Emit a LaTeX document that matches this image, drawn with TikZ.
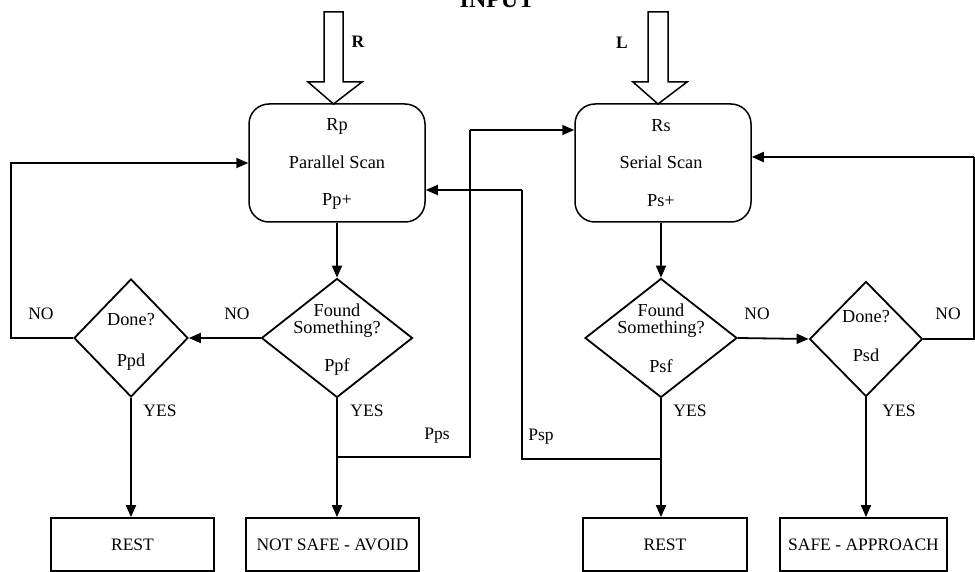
\documentclass[tikz,border=0pt]{standalone}
\usepackage{fontspec}
\setmainfont{Liberation Serif}
\usetikzlibrary{arrows.meta,shapes.geometric}
\begin{document}
\begin{tikzpicture}[x=1pt,y=-1pt,
  line/.style={line width=1.8pt},
  arr/.style={line width=1.8pt,-{Triangle[length=12pt,width=10pt]}},
  scanbox/.style={draw,line width=1.5pt,rounded corners=20pt,minimum width=176pt,minimum height=118pt,inner sep=0pt},
  decision/.style={draw,diamond,line width=1.8pt,inner sep=0pt},
  endbox/.style={draw,line width=1.8pt,minimum height=53pt,inner sep=0pt,font=\fontsize{17.5}{20}\selectfont},
  txt/.style={font=\fontsize{18.3}{21}\selectfont,inner sep=0pt},
  lbl/.style={font=\fontsize{17.5}{20}\selectfont,inner sep=0pt}
]
\useasboundingbox (0,0) rectangle (975,572);
% title
\node[font=\bfseries\fontsize{24}{28}\selectfont,anchor=base] (title) at (497,8) {INPUT};
% hollow input arrows
\draw[line width=1.5pt,line join=miter] (324,12) -- (343,12) -- (343,82) -- (362,82) -- (333.5,104) -- (308,82) -- (324,82) -- cycle;
\draw[line width=1.5pt,line join=miter] (648,12) -- (668,12) -- (668,82) -- (687,82) -- (658,104) -- (633,82) -- (648,82) -- cycle;
\node[lbl,font=\bfseries\fontsize{17.5}{20}\selectfont] (lR) at (358,42) {R};
\node[lbl,font=\bfseries\fontsize{17.5}{20}\selectfont] (lL) at (622,43) {L};
% scan boxes
\node[scanbox] (Rp) at (337,163) {};
\node[txt] (Rpa) at (337,126) {Rp};
\node[txt] (Rpb) at (337,162) {Parallel Scan};
\node[txt] (Rpc) at (337,201) {Pp+};
\node[scanbox] (Rs) at (663,163) {};
\node[txt] (Rsa) at (661,126) {Rs};
\node[txt] (Rsb) at (661,162) {Serial Scan};
\node[txt] (Rsc) at (661,201) {Ps+};
% decisions
\node[decision,minimum width=114pt,minimum height=118pt] (Ppd) at (131,338) {};
\node[txt] (Ppda) at (131,320) {Done?};
\node[txt] (Ppdb) at (131,362) {Ppd};
\node[decision,minimum width=151pt,minimum height=119pt] (Ppf) at (337,338) {};
\node[txt] (Ppfa) at (337,310) {Found};
\node[txt] (Ppfb) at (337,329) {Something?};
\node[txt] (Ppfc) at (337,367) {Ppf};
\node[decision,minimum width=152pt,minimum height=119pt] (Psf) at (661,338) {};
\node[txt] (Psfa) at (661,310) {Found};
\node[txt] (Psfb) at (661,329) {Something?};
\node[txt] (Psfc) at (661,366) {Psf};
\node[decision,minimum width=113pt,minimum height=115pt] (Psd) at (866,339) {};
\node[txt] (Psda) at (866,317) {Done?};
\node[txt] (Psdb) at (866,355) {Psd};
% end boxes
\node[endbox,minimum width=163pt] (rest1) at (132.5,544.5) {REST};
\node[endbox,minimum width=173pt] (nsa) at (332.5,544.5) {NOT SAFE - AVOID};
\node[endbox,minimum width=164pt] (rest2) at (665,544.5) {REST};
\node[endbox,minimum width=167pt] (safe) at (863.5,544.5) {SAFE - APPROACH};
% helper coordinates
\coordinate (j1) at (337,457);
\coordinate (j2) at (661,459);
\coordinate (ppsc) at (470,130);
\coordinate (pspc) at (522,190);
\coordinate (lw) at (11,163);
\coordinate (rw) at (974,157);
% connectors
\draw[arr] (Rp.south) -- (Ppf.north);
\draw[arr] (Rs.south -| Psf.north) -- (Psf.north);
\draw[arr] (Ppf.west) -- (Ppd.east);
\draw[arr] (Ppd.west) -| (lw) -- (Rp.west |- lw);
\draw[arr] (Ppd.south) -- (Ppd.south |- rest1.north);
\draw[arr] (Ppf.south) -- (Ppf.south |- nsa.north);
\draw[line] (j1) -| (ppsc);
\draw[arr] (ppsc) -- (Rs.west |- ppsc);
\draw[line] (j2) -| (pspc);
\draw[arr] (pspc) -- (Rp.east |- pspc);
\draw[arr] (Psf.south) -- (Psf.south |- rest2.north);
\draw[arr] (Psf.east) -- (Psd.west);
\draw[line] (Psd.east) -| (rw);
\draw[arr] (rw) -- (Rs.east |- rw);
\draw[arr] (Psd.south) -- (Psd.south |- safe.north);
% labels
\node[lbl] (no1) at (41,314) {NO};
\node[lbl] (no2) at (237,314) {NO};
\node[lbl] (no3) at (757,314) {NO};
\node[lbl] (no4) at (948,314) {NO};
\node[lbl] (yes1) at (160,411) {YES};
\node[lbl] (yes2) at (367,411) {YES};
\node[lbl] (yes3) at (690,411) {YES};
\node[lbl] (yes4) at (899,411) {YES};
\node[lbl] (pps) at (437,436) {Pps};
\node[lbl] (psp) at (541,437) {Psp};
\end{tikzpicture}
\end{document}
